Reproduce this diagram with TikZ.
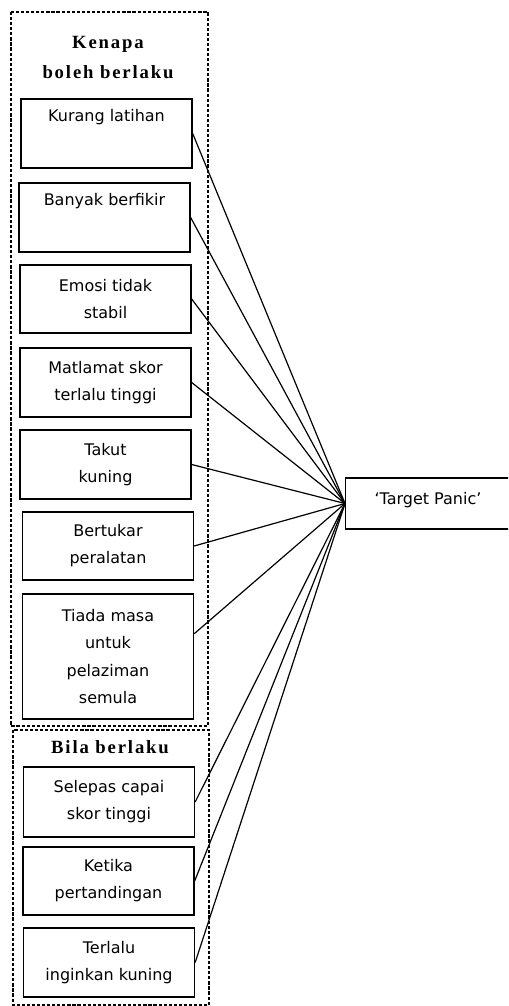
\documentclass[tikz,border=0pt]{standalone}
\usepackage{fontspec}
\setmainfont{DejaVu Sans}
\newfontfamily\titlefont[LetterSpace=10]{Liberation Serif}
\usetikzlibrary{calc}
\begin{document}
\begin{tikzpicture}[x=0.75pt,y=-0.75pt,
  itembox/.style={draw,line width=1pt,minimum width=171*0.75pt,inner sep=0pt,align=center,
    font={\fontsize{12}{20.3}\selectfont}},
  groupbox/.style={draw,line width=0.9pt,dash pattern=on 2.4pt off 1.4pt},
  titletext/.style={align=center,font={\titlefont\bfseries\fontsize{14}{22.5}\selectfont}},
  link/.style={line width=0.9pt}]
\useasboundingbox (0,0) rectangle (508,1006);
\clip (0,0) rectangle (508,1006);
% group boxes
\draw[groupbox] (11,12) rectangle (208,726);
\draw[groupbox] (13,730) rectangle (209,1005);
\node[titletext] (t1) at (108,58) {Kenapa\\boleh berlaku};
\node[titletext] (t2) at (110,747) {Bila berlaku};
% items
\node[itembox,minimum height=69*0.75pt] (b1) at (106.5,133.5) {Kurang latihan\\ \strut};
\node[itembox,minimum height=69*0.75pt] (b2) at (104.5,217.5) {Banyak berfikir\\ \strut};
\node[itembox,minimum height=68*0.75pt] (b3) at (105.5,299) {Emosi tidak\\stabil};
\node[itembox,minimum height=69*0.75pt] (b4) at (105.5,382.5) {Matlamat skor\\terlalu tinggi};
\node[itembox,minimum height=69*0.75pt] (b5) at (105.5,464.5) {Takut\\kuning};
\node[itembox,minimum height=68*0.75pt] (b6) at (108,546) {Bertukar\\peralatan};
\node[itembox,minimum height=125*0.75pt] (b7) at (108,656.5) {Tiada masa\\untuk\\pelaziman\\semula};
\node[itembox,minimum height=70*0.75pt] (b8) at (109,802) {Selepas capai\\skor tinggi};
\node[itembox,minimum height=68*0.75pt] (b9) at (108.5,881) {Ketika\\pertandingan};
\node[itembox,minimum height=69*0.75pt] (b10) at (109,962.5) {Terlalu\\inginkan kuning};
% target
\node[draw,line width=1pt,minimum width=180*0.75pt,minimum height=51*0.75pt,anchor=west,inner sep=0pt] (t) at (345,503.5) {};
\node[font={\fontsize{12}{14}\selectfont}] (tl) at (428,500) {‘Target Panic’};
% connectors
\foreach \b in {b1,b2,b3,b4,b5,b6,b8,b9,b10}
  \draw[link] (\b.east) -- (t.west);
\draw[link] ($(b7.north east)!0.32!(b7.south east)$) -- (t.west);
\end{tikzpicture}
\end{document}
